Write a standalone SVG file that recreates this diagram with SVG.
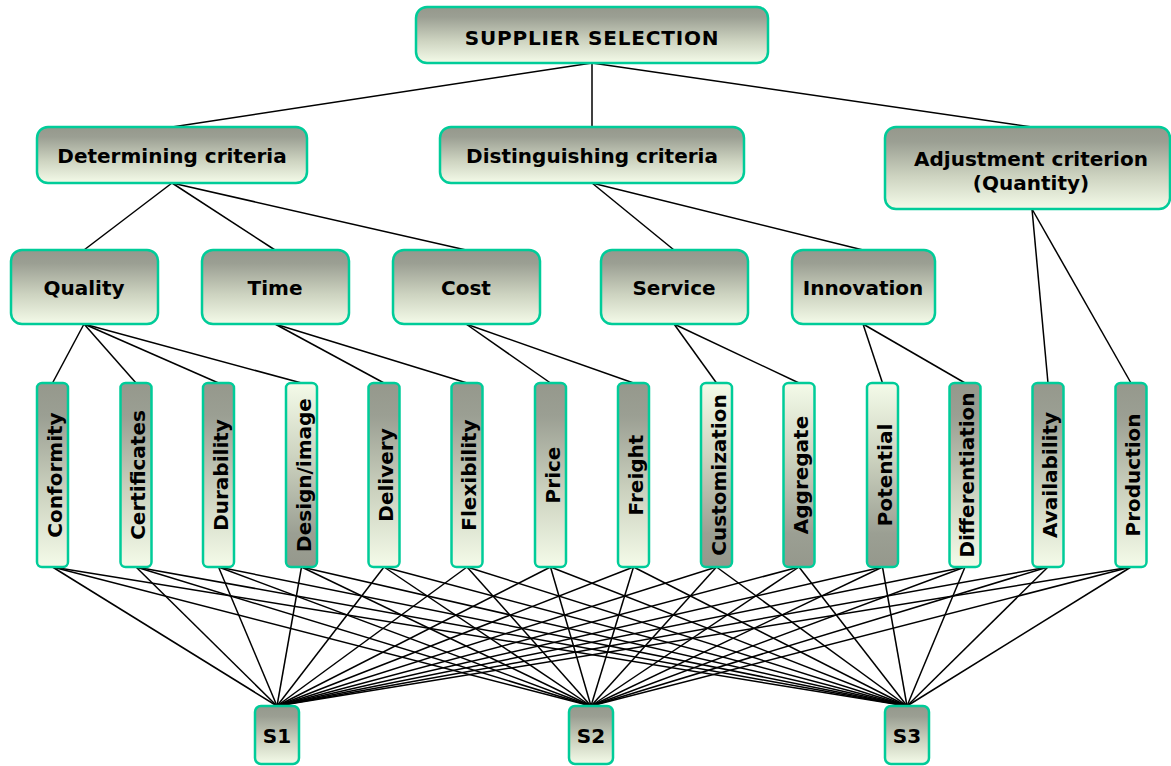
<svg xmlns="http://www.w3.org/2000/svg" width="1171" height="766" viewBox="0 0 1171 766">
<defs>
<linearGradient id="g" x1="0" y1="0" x2="0" y2="1">
<stop offset="0" stop-color="#95988C"/>
<stop offset="0.18" stop-color="#9B9F93"/>
<stop offset="0.6" stop-color="#CDD3C0"/>
<stop offset="1" stop-color="#F4FBE9"/>
</linearGradient>
<linearGradient id="gr" x1="0" y1="1" x2="0" y2="0">
<stop offset="0" stop-color="#95988C"/>
<stop offset="0.18" stop-color="#9B9F93"/>
<stop offset="0.6" stop-color="#CDD3C0"/>
<stop offset="1" stop-color="#F4FBE9"/>
</linearGradient>
</defs>
<style>
.n{fill:url(#g);stroke:#00CC99;stroke-width:2.5}
.r{fill:url(#gr);stroke:#00CC99;stroke-width:2.5}
.t{font-family:"DejaVu Sans","Verdana",sans-serif;font-weight:bold;font-size:20px;fill:#000;text-anchor:middle}
.c line{stroke:#000;stroke-width:1.5}
</style>
<rect width="1171" height="766" fill="#fff"/>
<g id="connectors" class="c">
<line x1="592" y1="63" x2="172" y2="127"/>
<line x1="592" y1="63" x2="592" y2="127"/>
<line x1="592" y1="63" x2="1032" y2="127"/>
<line x1="172" y1="183" x2="84" y2="250"/>
<line x1="172" y1="183" x2="275" y2="250"/>
<line x1="172" y1="183" x2="466" y2="250"/>
<line x1="592" y1="183" x2="674" y2="250"/>
<line x1="592" y1="183" x2="863" y2="250"/>
<line x1="84" y1="324" x2="52.5" y2="383"/>
<line x1="84" y1="324" x2="136" y2="383"/>
<line x1="84" y1="324" x2="218.5" y2="383"/>
<line x1="84" y1="324" x2="301.5" y2="383"/>
<line x1="275" y1="324" x2="384" y2="383"/>
<line x1="275" y1="324" x2="467" y2="383"/>
<line x1="466" y1="324" x2="550.5" y2="383"/>
<line x1="466" y1="324" x2="633.5" y2="383"/>
<line x1="674" y1="324" x2="716.5" y2="383"/>
<line x1="674" y1="324" x2="799" y2="383"/>
<line x1="863" y1="324" x2="882.5" y2="383"/>
<line x1="863" y1="324" x2="965" y2="383"/>
<line x1="1032" y1="209" x2="1048" y2="383"/>
<line x1="1032" y1="209" x2="1131" y2="383"/>
<line x1="52.5" y1="567" x2="277" y2="706"/><line x1="52.5" y1="567" x2="591" y2="706"/><line x1="52.5" y1="567" x2="907" y2="706"/>
<line x1="136" y1="567" x2="277" y2="706"/><line x1="136" y1="567" x2="591" y2="706"/><line x1="136" y1="567" x2="907" y2="706"/>
<line x1="218.5" y1="567" x2="277" y2="706"/><line x1="218.5" y1="567" x2="591" y2="706"/><line x1="218.5" y1="567" x2="907" y2="706"/>
<line x1="301.5" y1="567" x2="277" y2="706"/><line x1="301.5" y1="567" x2="591" y2="706"/><line x1="301.5" y1="567" x2="907" y2="706"/>
<line x1="384" y1="567" x2="277" y2="706"/><line x1="384" y1="567" x2="591" y2="706"/><line x1="384" y1="567" x2="907" y2="706"/>
<line x1="467" y1="567" x2="277" y2="706"/><line x1="467" y1="567" x2="591" y2="706"/><line x1="467" y1="567" x2="907" y2="706"/>
<line x1="550.5" y1="567" x2="277" y2="706"/><line x1="550.5" y1="567" x2="591" y2="706"/><line x1="550.5" y1="567" x2="907" y2="706"/>
<line x1="633.5" y1="567" x2="277" y2="706"/><line x1="633.5" y1="567" x2="591" y2="706"/><line x1="633.5" y1="567" x2="907" y2="706"/>
<line x1="716.5" y1="567" x2="277" y2="706"/><line x1="716.5" y1="567" x2="591" y2="706"/><line x1="716.5" y1="567" x2="907" y2="706"/>
<line x1="799" y1="567" x2="277" y2="706"/><line x1="799" y1="567" x2="591" y2="706"/><line x1="799" y1="567" x2="907" y2="706"/>
<line x1="882.5" y1="567" x2="277" y2="706"/><line x1="882.5" y1="567" x2="591" y2="706"/><line x1="882.5" y1="567" x2="907" y2="706"/>
<line x1="965" y1="567" x2="277" y2="706"/><line x1="965" y1="567" x2="591" y2="706"/><line x1="965" y1="567" x2="907" y2="706"/>
<line x1="1048" y1="567" x2="277" y2="706"/><line x1="1048" y1="567" x2="591" y2="706"/><line x1="1048" y1="567" x2="907" y2="706"/>
<line x1="1131" y1="567" x2="277" y2="706"/><line x1="1131" y1="567" x2="591" y2="706"/><line x1="1131" y1="567" x2="907" y2="706"/>
</g>
<g id="supplier-selection"><rect class="n" x="416" y="7" width="352" height="56" rx="11"/><text class="t" x="592" y="45" letter-spacing="0.8">SUPPLIER SELECTION</text></g>
<g id="determining"><rect class="n" x="37" y="127" width="270" height="56" rx="11"/><text class="t" x="172" y="163">Determining criteria</text></g>
<g id="distinguishing"><rect class="n" x="440" y="127" width="304" height="56" rx="11"/><text class="t" x="592" y="163">Distinguishing criteria</text></g>
<g id="adjustment"><rect class="n" x="885" y="127" width="285" height="82" rx="11"/><text class="t" x="1031" y="166">Adjustment criterion</text><text class="t" x="1031" y="190">(Quantity)</text></g>
<g id="quality"><rect class="n" x="11" y="250" width="147" height="74" rx="11"/><text class="t" x="84" y="295">Quality</text></g>
<g id="time"><rect class="n" x="202" y="250" width="147" height="74" rx="11"/><text class="t" x="275" y="295">Time</text></g>
<g id="cost"><rect class="n" x="393" y="250" width="147" height="74" rx="11"/><text class="t" x="466" y="295">Cost</text></g>
<g id="service"><rect class="n" x="601" y="250" width="147" height="74" rx="11"/><text class="t" x="674" y="295">Service</text></g>
<g id="innovation"><rect class="n" x="792" y="250" width="143" height="74" rx="11"/><text class="t" x="863" y="295">Innovation</text></g>
<g id="conformity"><rect class="n" x="37" y="383" width="31" height="184" rx="5"/><text class="t" transform="translate(52.5 475) rotate(-90)" y="9">Conformity</text></g>
<g id="certificates"><rect class="n" x="120.5" y="383" width="31" height="184" rx="5"/><text class="t" transform="translate(136 475) rotate(-90)" y="9">Certificates</text></g>
<g id="durability"><rect class="n" x="203" y="383" width="31" height="184" rx="5"/><text class="t" transform="translate(218.5 475) rotate(-90)" y="9">Durability</text></g>
<g id="design-image"><rect class="r" x="286" y="383" width="31" height="184" rx="5"/><text class="t" transform="translate(301.5 475) rotate(-90)" y="9">Design/image</text></g>
<g id="delivery"><rect class="n" x="368.5" y="383" width="31" height="184" rx="5"/><text class="t" transform="translate(384 475) rotate(-90)" y="9">Delivery</text></g>
<g id="flexibility"><rect class="n" x="451.5" y="383" width="31" height="184" rx="5"/><text class="t" transform="translate(467 475) rotate(-90)" y="9">Flexibility</text></g>
<g id="price"><rect class="n" x="535" y="383" width="31" height="184" rx="5"/><text class="t" transform="translate(550.5 475) rotate(-90)" y="9">Price</text></g>
<g id="freight"><rect class="n" x="618" y="383" width="31" height="184" rx="5"/><text class="t" transform="translate(633.5 475) rotate(-90)" y="9">Freight</text></g>
<g id="customization"><rect class="r" x="701" y="383" width="31" height="184" rx="5"/><text class="t" transform="translate(716.5 475) rotate(-90)" y="9">Customization</text></g>
<g id="aggregate"><rect class="r" x="783.5" y="383" width="31" height="184" rx="5"/><text class="t" transform="translate(799 475) rotate(-90)" y="9">Aggregate</text></g>
<g id="potential"><rect class="r" x="867" y="383" width="31" height="184" rx="5"/><text class="t" transform="translate(882.5 475) rotate(-90)" y="9">Potential</text></g>
<g id="differentiation"><rect class="n" x="949.5" y="383" width="31" height="184" rx="5"/><text class="t" transform="translate(965 475) rotate(-90)" y="9">Differentiation</text></g>
<g id="availability"><rect class="n" x="1032.5" y="383" width="31" height="184" rx="5"/><text class="t" transform="translate(1048 475) rotate(-90)" y="9">Availability</text></g>
<g id="production"><rect class="n" x="1115.5" y="383" width="31" height="184" rx="5"/><text class="t" transform="translate(1131 475) rotate(-90)" y="9">Production</text></g>
<g id="s1"><rect class="n" x="255" y="706" width="44" height="58" rx="6"/><text class="t" x="277" y="743">S1</text></g>
<g id="s2"><rect class="n" x="569" y="706" width="44" height="58" rx="6"/><text class="t" x="591" y="743">S2</text></g>
<g id="s3"><rect class="n" x="885" y="706" width="44" height="58" rx="6"/><text class="t" x="907" y="743">S3</text></g>
</svg>
